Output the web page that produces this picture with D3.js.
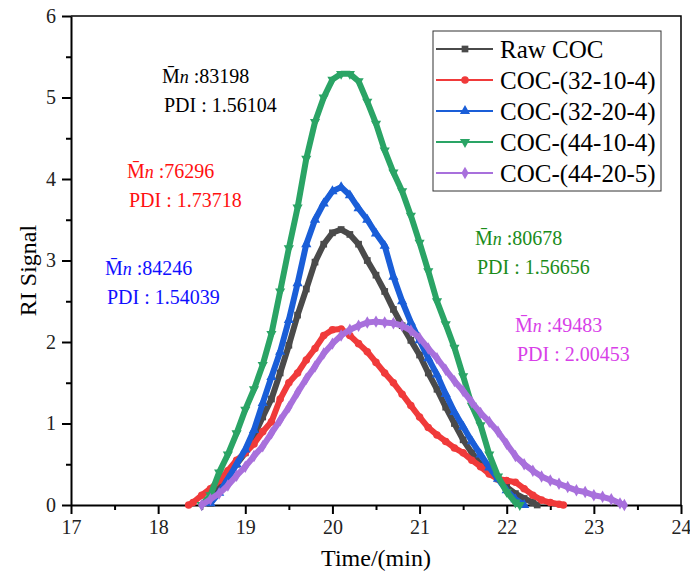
<!DOCTYPE html>
<html>
<head>
<meta charset="utf-8">
<script src="https://d3js.org/d3.v7.min.js"></script>
<style>
    body { margin: 0; background: #fff; }
    svg text { font-family: "Liberation Serif", "Times New Roman", serif; }
    .axis path, .axis line { stroke: #000; stroke-width: 2px; fill: none; }
    .axis text { font-size: 20px; fill: #222; }
    .frame { stroke: #000; stroke-width: 1.5px; fill: none; }
    .axis-title { font-size: 24px; fill: #000; }
    .legend-box { fill: #fff; stroke: #333; stroke-width: 1px; }
    .legend-text { font-size: 25px; fill: #000; }
    .note { font-size: 20px; }
</style>
</head>
<body>
<svg id="chart" width="690" height="575"></svg>
<script>
    // Series names, colours and marker shapes
    const seriesNames = ["Raw COC", "COC-(32-10-4)", "COC-(32-20-4)", "COC-(44-10-4)", "COC-(44-20-5)"];
    const seriesColors = ["#4a4a4a", "#f03a3a", "#1a5ed8", "#2aa465", "#a870dc"];
    const seriesSymbols = [d3.symbolSquare, d3.symbolCircle, d3.symbolTriangle, d3.symbolTriangle, d3.symbolDiamond];
    const symbolRotate = [0, 0, 0, 180, 0];

    // Time (min) / RI signal
    const rawTime = [18.6, 18.7, 18.8, 18.9, 19.0, 19.1, 19.2, 19.3, 19.4, 19.5, 19.6, 19.7, 19.8, 19.9, 20.0, 20.1, 20.2, 20.3, 20.4, 20.5, 20.6, 20.7, 20.8, 20.9, 21.0, 21.1, 21.2, 21.3, 21.4, 21.5, 21.6, 21.7, 21.8, 21.9, 22.0, 22.1, 22.2, 22.3, 22.35];
    const rawSignal = [0.02, 0.2, 0.38, 0.5, 0.64, 0.85, 1.08, 1.3, 1.62, 1.96, 2.33, 2.65, 2.98, 3.2, 3.34, 3.38, 3.32, 3.2, 3.0, 2.82, 2.62, 2.4, 2.2, 2.02, 1.84, 1.62, 1.42, 1.2, 1.0, 0.8, 0.64, 0.5, 0.4, 0.32, 0.22, 0.14, 0.08, 0.03, 0.0];

    const c3210Time = [18.35, 18.4, 18.5, 18.6, 18.7, 18.8, 18.9, 19.0, 19.1, 19.2, 19.3, 19.4, 19.5, 19.6, 19.7, 19.8, 19.9, 20.0, 20.1, 20.2, 20.3, 20.4, 20.5, 20.6, 20.7, 20.8, 20.9, 21.0, 21.1, 21.2, 21.3, 21.4, 21.5, 21.6, 21.7, 21.8, 21.9, 22.0, 22.1, 22.2, 22.3, 22.4, 22.5, 22.6, 22.65];
    const c3210Signal = [0.0, 0.03, 0.12, 0.2, 0.3, 0.42, 0.55, 0.64, 0.75, 0.9, 1.02, 1.3, 1.5, 1.62, 1.78, 1.92, 2.08, 2.15, 2.16, 2.08, 1.98, 1.88, 1.75, 1.62, 1.5, 1.36, 1.22, 1.08, 0.95, 0.86, 0.78, 0.7, 0.64, 0.55, 0.47, 0.38, 0.32, 0.3, 0.28, 0.2, 0.12, 0.06, 0.03, 0.01, 0.0];

    const c3220Time = [18.6, 18.7, 18.8, 18.9, 19.0, 19.1, 19.2, 19.3, 19.4, 19.5, 19.6, 19.7, 19.8, 19.9, 20.0, 20.1, 20.2, 20.3, 20.4, 20.5, 20.6, 20.7, 20.8, 20.9, 21.0, 21.1, 21.2, 21.3, 21.4, 21.5, 21.6, 21.7, 21.8, 21.9, 22.0, 22.1, 22.2];
    const c3220Signal = [0.02, 0.15, 0.32, 0.5, 0.68, 0.92, 1.25, 1.57, 1.88, 2.27, 2.72, 3.2, 3.5, 3.7, 3.85, 3.9, 3.8, 3.64, 3.5, 3.33, 3.18, 2.8, 2.5, 2.24, 2.02, 1.8, 1.6, 1.36, 1.14, 0.96, 0.78, 0.62, 0.46, 0.32, 0.18, 0.07, 0.0];

    const c4410Time = [18.5, 18.6, 18.7, 18.8, 18.9, 19.0, 19.1, 19.2, 19.3, 19.4, 19.5, 19.6, 19.7, 19.8, 19.9, 20.0, 20.1, 20.2, 20.3, 20.4, 20.5, 20.6, 20.7, 20.8, 20.9, 21.0, 21.1, 21.2, 21.3, 21.4, 21.5, 21.6, 21.7, 21.8, 21.9, 22.0, 22.1, 22.15];
    const c4410Signal = [0.0, 0.12, 0.4, 0.62, 0.88, 1.17, 1.42, 1.72, 2.1, 2.62, 3.15, 3.65, 4.25, 4.7, 5.0, 5.22, 5.29, 5.29, 5.2, 4.95, 4.68, 4.35, 4.08, 3.85, 3.55, 3.22, 2.87, 2.5, 2.22, 1.93, 1.58, 1.22, 0.98, 0.62, 0.35, 0.16, 0.03, 0.0];

    const c4420Time = [18.5, 18.6, 18.7, 18.8, 18.9, 19.0, 19.1, 19.2, 19.3, 19.4, 19.5, 19.6, 19.7, 19.8, 19.9, 20.0, 20.1, 20.2, 20.3, 20.4, 20.5, 20.6, 20.7, 20.8, 20.9, 21.0, 21.1, 21.2, 21.3, 21.4, 21.5, 21.6, 21.7, 21.8, 21.9, 22.0, 22.1, 22.2, 22.3, 22.4, 22.5, 22.6, 22.7, 22.8, 22.9, 23.0, 23.1, 23.2, 23.3, 23.35];
    const c4420Signal = [0.0, 0.07, 0.14, 0.24, 0.36, 0.47, 0.6, 0.72, 0.88, 1.04, 1.2, 1.38, 1.55, 1.7, 1.86, 1.98, 2.08, 2.15, 2.2, 2.24, 2.25, 2.24, 2.23, 2.2, 2.14, 2.05, 1.92, 1.8, 1.66, 1.52, 1.4, 1.26, 1.13, 1.02, 0.9, 0.75, 0.6, 0.5, 0.42, 0.35, 0.3, 0.26, 0.22, 0.18, 0.16, 0.12, 0.1, 0.07, 0.02, 0.0];

    const seriesTimes = [rawTime, c3210Time, c3220Time, c4410Time, c4420Time];
    const seriesSignals = [rawSignal, c3210Signal, c3220Signal, c4410Signal, c4420Signal];

    // Mn / PDI annotations
    const noteMn = ["83198", "76296", "84246", "80678", "49483"];
    const notePdi = ["1.56104", "1.73718", "1.54039", "1.56656", "2.00453"];
    const noteColors = ["#000000", "#ff1010", "#1010ff", "#1a8c1a", "#d83fe8"];
    const noteX = [162, 127, 105, 475, 515];
    const noteY = [83, 178, 275, 245, 332];

    const xTicks = [17, 18, 19, 20, 21, 22, 23, 24];
    const yTicks = [0, 1, 2, 3, 4, 5, 6];

    const svg = d3.select("#chart");
    const margin = { top: 16, right: 9, bottom: 70, left: 71 };
    const width = 690 - margin.left - margin.right;
    const height = 575 - margin.top - margin.bottom;

    const x = d3.scaleLinear().domain([17, 24]).range([0, width]);
    const y = d3.scaleLinear().domain([0, 6]).range([height, 0]);

    const g = svg.append("g").attr("transform", `translate(${margin.left},${margin.top})`);

    // frame (top and right)
    g.append("path").attr("class", "frame")
        .attr("d", `M0,0H${width}V${height}`);

    // minor ticks
    g.append("g").attr("class", "axis")
        .attr("transform", `translate(0,${height})`)
        .call(d3.axisBottom(x).tickValues(d3.range(17.5, 24, 1)).tickSize(5).tickFormat(""))
        .select(".domain").remove();
    g.append("g").attr("class", "axis")
        .call(d3.axisLeft(y).tickValues(d3.range(0.5, 6, 1)).tickSize(5).tickFormat(""))
        .select(".domain").remove();

    // major axes
    g.append("g").attr("class", "axis")
        .attr("transform", `translate(0,${height})`)
        .call(d3.axisBottom(x).tickValues(xTicks).tickSize(9).tickSizeOuter(0).tickPadding(6).tickFormat(d3.format("d")));
    g.append("g").attr("class", "axis")
        .call(d3.axisLeft(y).tickValues(yTicks).tickSize(9).tickSizeOuter(0).tickPadding(6).tickFormat(d3.format("d")));

    // curves
    const line = d3.line().x(d => x(d[0])).y(d => y(d[1]));
    seriesNames.forEach((name, i) => {
        const pts = seriesTimes[i].map((t, j) => [t, seriesSignals[i][j]]);
        g.append("path")
            .datum(pts)
            .attr("fill", "none")
            .attr("stroke", seriesColors[i])
            .attr("stroke-width", 6)
            .attr("stroke-linejoin", "round")
            .attr("d", line);
        g.selectAll(null)
            .data(pts)
            .enter()
            .append("path")
            .attr("d", d3.symbol().type(seriesSymbols[i]).size(45))
            .attr("fill", seriesColors[i])
            .attr("transform", d => `translate(${x(d[0])},${y(d[1])}) rotate(${symbolRotate[i]})`);
    });

    // axis titles
    svg.append("text").attr("class", "axis-title")
        .attr("x", margin.left + x(20.5)).attr("y", 566)
        .attr("text-anchor", "middle")
        .text("Time/(min)");
    svg.append("text").attr("class", "axis-title")
        .attr("transform", `translate(36,${margin.top + y(3) + 10}) rotate(-90)`)
        .attr("text-anchor", "middle")
        .text("RI Signal");

    // legend
    const legend = svg.append("g").attr("transform", "translate(433,31)");
    legend.append("rect").attr("class", "legend-box")
        .attr("width", 228).attr("height", 160);
    seriesNames.forEach((name, i) => {
        const row = legend.append("g").attr("transform", `translate(0,${18 + i * 31})`);
        row.append("line")
            .attr("x1", 3).attr("x2", 60)
            .attr("stroke", seriesColors[i]).attr("stroke-width", 2);
        row.append("path")
            .attr("d", d3.symbol().type(seriesSymbols[i]).size(45))
            .attr("fill", seriesColors[i])
            .attr("transform", `translate(32,0) rotate(${symbolRotate[i]})`);
        row.append("text").attr("class", "legend-text")
            .attr("x", 67).attr("y", 9)
            .text(name);
    });

    // Mn / PDI notes
    noteMn.forEach((mn, i) => {
        const t = svg.append("text").attr("class", "note")
            .attr("x", noteX[i]).attr("y", noteY[i])
            .attr("fill", noteColors[i]);
        t.append("tspan").text("M\u0304");
        t.append("tspan").attr("font-style", "italic").attr("font-size", 18).text("n");
        t.append("tspan").text(" :" + mn);
        svg.append("text").attr("class", "note")
            .attr("x", noteX[i] + 2).attr("y", noteY[i] + 29)
            .attr("fill", noteColors[i])
            .text("PDI : " + notePdi[i]);
    });
</script>
</body>
</html>
